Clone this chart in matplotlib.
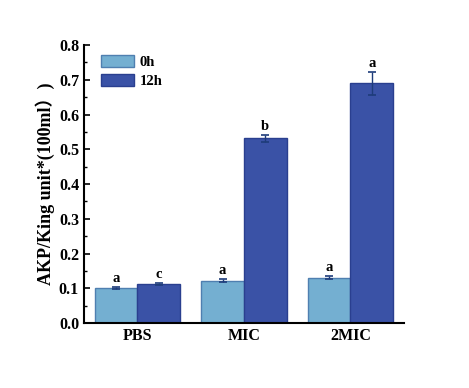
import numpy as np
import matplotlib.pyplot as plt
from matplotlib.ticker import MultipleLocator

groups = ["PBS", "MIC", "2MIC"]
series = ["0h", "12h"]
vals_0h = [0.100, 0.122, 0.130]
vals_12h = [0.112, 0.531, 0.690]
err_0h = [0.003, 0.005, 0.004]
err_12h = [0.002, 0.009, 0.033]
sig_0h = ["a", "a", "a"]
sig_12h = ["c", "b", "a"]

fam = ["Liberation Serif", "Noto Sans CJK SC"]
plt.rcParams["font.family"] = fam
plt.rcParams["font.weight"] = "bold"

fig = plt.figure(figsize=(4.69, 3.88), dpi=100)
ax = fig.add_axes([0.179, 0.1675, 0.682, 0.7165])

x = np.arange(1, len(groups) + 1)
w = 0.4
colors = ["#74AFD1", "#3A52A6"]
edges = ["#4F7FB0", "#2A3F8F"]

for j, (vals, errs, sig) in enumerate([(vals_0h, err_0h, sig_0h), (vals_12h, err_12h, sig_12h)]):
    xs = x + (j - 0.5) * w
    ax.bar(xs, vals, width=w, color=colors[j], edgecolor=edges[j], linewidth=1.0,
           label=series[j], zorder=2)
    ax.errorbar(xs, vals, yerr=errs, fmt="none", ecolor="#1E3C7A", elinewidth=1.0,
                capsize=3, capthick=1.2, zorder=3)
    for xi, v, e, s in zip(xs, vals, errs, sig):
        ax.text(xi, v + e + 0.006, s, ha="center", va="bottom", fontsize=10.5,
                fontweight="bold")

ax.set_xlim(0.5, 3.5)
ax.set_ylim(0, 0.8)
ax.set_xticks(x)
ax.set_xticklabels(groups, fontsize=11.5, fontweight="bold")
ax.yaxis.set_major_locator(MultipleLocator(0.1))
ax.yaxis.set_minor_locator(MultipleLocator(0.05))
ax.set_yticklabels([f"{v:.1f}" for v in ax.get_yticks()], fontsize=11.5, fontweight="bold")
ax.tick_params(axis="both", which="major", direction="in", length=4, width=1.2)
ax.tick_params(axis="y", which="minor", direction="in", length=2, width=1)
ax.set_ylabel("AKP/King unit*(100ml）)", fontsize=13, fontweight="bold", family=fam,
              labelpad=3)

for side in ["top", "right"]:
    ax.spines[side].set_visible(False)
ax.spines["left"].set_linewidth(1.5)
ax.spines["bottom"].set_linewidth(1.5)

leg = ax.legend(loc="upper left", bbox_to_anchor=(0.02, 1.0), frameon=False,
                fontsize=10.5, handlelength=2.3, handleheight=0.9, labelspacing=0.3,
                handletextpad=0.4, borderaxespad=0.3)

fig.savefig("out.png", dpi=100)
